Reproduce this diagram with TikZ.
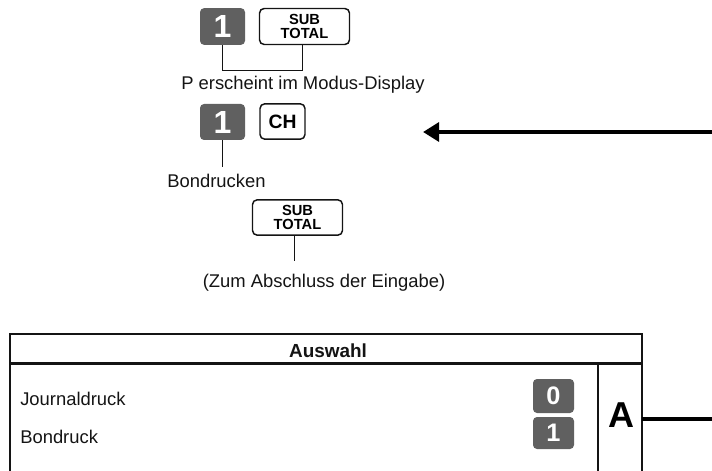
\documentclass[tikz,border=0pt]{standalone}
\usepackage{fontspec}
\setmainfont{Liberation Sans}
\usetikzlibrary{arrows.meta}
\definecolor{keygray}{RGB}{96,96,96}
\definecolor{ink}{RGB}{20,20,20}
\begin{document}
\begin{tikzpicture}[x=0.75pt,y=-0.75pt,
  numkey/.style={fill=keygray, rounded corners=3pt, text=white, inner sep=0pt,
    font=\bfseries\fontsize{24}{24}\selectfont, minimum width=33.75pt, minimum height=27.5pt},
  smallkey/.style={fill=keygray, rounded corners=3pt, text=white, inner sep=0pt,
    font=\bfseries\fontsize{19}{19}\selectfont, minimum width=30.75pt},
  stkey/.style={draw=ink, line width=1.1pt, rounded corners=3.5pt, fill=white, inner sep=0pt,
    align=center, font=\bfseries\fontsize{11}{10.5}\selectfont, minimum width=67.5pt, minimum height=27pt},
  chkey/.style={draw=ink, line width=1.1pt, rounded corners=3.5pt, fill=white, inner sep=0pt,
    font=\bfseries\fontsize{14.5}{14.5}\selectfont, minimum width=33.75pt, minimum height=26.5pt},
  conn/.style={draw=ink, line width=0.8pt},
  txt/.style={inner sep=0pt, text=ink, font=\fontsize{13.8}{16}\selectfont},
  tbl/.style={draw=ink, line width=1.6pt},
  thick arrow/.style={draw=black, line width=3pt}
]
\useasboundingbox (0,0) rectangle (712,470);

% first step
\node[numkey] (k1a) at (222.5,26.5) {1};
\node[stkey] (st1) at (304.5,26.5) {SUB\\TOTAL};
\draw[conn] (k1a.south) -- ++(0,25) -| ([xshift=-1.8pt]st1.south);
\node[txt, anchor=base] (t1) at (303,90) {P erscheint im Modus-Display};

% second step
\node[numkey, minimum height=27pt] (k1b) at (222.5,122) {1};
\node[chkey] (ch) at (282.5,121.5) {CH};
\draw[conn] (k1b.south) -- ++(0,27);
\node[txt, anchor=base] (t2) at (216.5,187) {Bondrucken};

% third step
\node[stkey, minimum height=26.5pt] (st2) at (297.5,217.5) {SUB\\TOTAL};
\draw[conn] ([xshift=-2.5pt]st2.south) -- ++(0,25);
\node[txt, anchor=base] (t3) at (324,287) {(Zum Abschluss der Eingabe)};

% arrow
\coordinate (arrS) at (714,132);
\coordinate (arrE) at (423,132);
\draw[thick arrow, -{Triangle[length=12pt,width=14pt]}] (arrS) -- (arrE);

% table
\draw[tbl] (10,474) -- (10,334) -- (642,334) -- (642,474);
\draw[tbl] (10,363.5) -- (642,363.5);
\draw[tbl] (598,363.5) -- (598,474);
\node[txt, anchor=base, font=\bfseries\fontsize{14.2}{16}\selectfont] (ausw) at (328,357) {Auswahl};
\node[txt, anchor=base west] (jd) at (20,405) {Journaldruck};
\node[txt, anchor=base west] (bd) at (20,443) {Bondruck};
\node[smallkey, minimum height=25.5pt] (k0) at (553.5,396) {0};
\node[smallkey, minimum height=24pt] (k1c) at (553.5,433) {1};
\node[inner sep=0pt, text=black, font=\bfseries\fontsize{27}{27}\selectfont] (A) at (621,415.5) {A};
\coordinate (aS) at (642,419);
\coordinate (aE) at (714,419);
\draw[thick arrow] (aS) -- (aE);
\end{tikzpicture}
\end{document}
